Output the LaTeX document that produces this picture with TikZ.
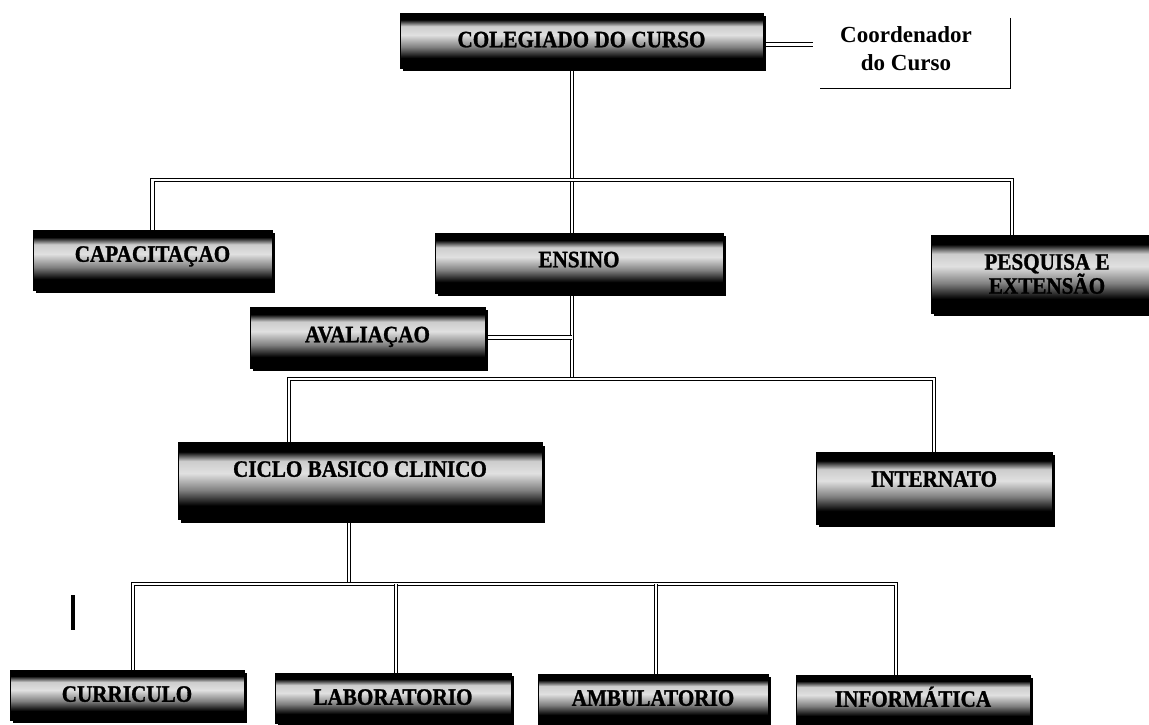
\documentclass[tikz,border=0pt]{standalone}
\usepackage{fontspec}
\setmainfont{Liberation Serif}
\newfontfamily\boxfont[FakeStretch=0.9,BoldFeatures={FakeBold=1.2}]{Liberation Serif}
\usetikzlibrary{shadows,calc}
\pgfdeclarelayer{bg}
\pgfsetlayers{bg,main}
\pgfdeclareverticalshading{cyl}{100bp}{color(0bp)=(black); color(25bp)=(black); color(34bp)=(black); color(44bp)=(black!50); color(55bp)=(black!12); color(63bp)=(black!20); color(69bp)=(black); color(75bp)=(black); color(100bp)=(black)}
\tikzset{
  box/.style={rectangle, draw=black, line width=1pt, shade, shading=cyl,
    inner sep=0pt, align=center, text height=15.5pt,
    font=\boxfont\fontsize{23.5}{24}\selectfont\bfseries, text=black,
    drop shadow={shadow xshift=3pt, shadow yshift=-3pt, fill=black, opacity=1}},
  twoline/.style={text height=, text depth=},
  up/.style={text depth=#1},
  dbl/.style={draw=black, line width=1.1pt, double=white, double distance=2.4pt},
  frameline/.style={draw=black, line width=1.3pt},
  coordtext/.style={rectangle, inner sep=0pt, align=center,
    font=\fontsize{23}{28}\selectfont\bfseries, text=black}
}
\begin{document}
\begin{tikzpicture}[x=1pt, y=-1pt]
\useasboundingbox (0,0) rectangle (1149,724);

% nodes
\node[box, up=2pt, minimum width=363pt, minimum height=55pt] (col) at (581.5,40.5) {COLEGIADO DO CURSO};
\node[coordtext, minimum width=208pt, minimum height=70pt] (coord) at (906,49) {Coordenador\\do Curso};
\node[box, up=12pt, minimum width=239pt, minimum height=60pt] (cap) at (152.5,260) {CAPACITAÇAO};
\node[box, up=7pt, minimum width=288pt, minimum height=60pt] (ens) at (579,263) {ENSINO};
\node[box, twoline, minimum width=232pt, minimum height=78pt] (pes) at (1047,274) {PESQUISA E\\EXTENSÃO};
\node[box, up=6pt, minimum width=235pt, minimum height=61pt] (aval) at (367.5,337.5) {AVALIAÇAO};
\node[box, up=24pt, minimum width=364pt, minimum height=77pt] (ciclo) at (360,481) {CICLO BASICO CLINICO};
\node[box, up=18pt, minimum width=236pt, minimum height=72pt] (intern) at (934,488) {INTERNATO};
\node[box, up=2pt, minimum width=234pt, minimum height=50pt] (cur) at (127,695) {CURRICULO};
\node[box, up=2pt, minimum width=236pt, minimum height=50pt] (lab) at (393,698) {LABORATORIO};
\node[box, up=2pt, minimum width=230pt, minimum height=50pt] (amb) at (653,699) {AMBULATORIO};
\node[box, up=2pt, minimum width=234pt, minimum height=50pt] (info) at (913,700) {INFORMÁTICA};

\coordinate (t1) at (572,180);
\coordinate (t2) at (572,379);
\coordinate (t3) at (349,584);

\begin{pgfonlayer}{bg}
  % trunk from the collegiate down to the lower bus
  \draw[dbl] (col.south -| t1) -- (t2);
  % upper bus
  \draw[dbl] (cap.north) |- (t1) -| ([xshift=-35pt]pes.north);
  % evaluation branch
  \draw[dbl] (aval.east) -- (aval.east -| t1);
  % lower bus
  \draw[dbl] ([xshift=-71pt]ciclo.north) |- (t2) -| (intern.north);
  % from ciclo down to the bottom bus
  \draw[dbl] (ciclo.south -| t3) -- (t3);
  \draw[dbl] ([xshift=6pt]cur.north) |- (t3) -| ([xshift=-17pt]info.north);
  \draw[dbl] ([xshift=3pt]lab.north) -- ([xshift=3pt]lab.north |- t3);
  \draw[dbl] ([xshift=3pt]amb.north) -- ([xshift=3pt]amb.north |- t3);
  % coordinator link
  \draw[dbl] ([yshift=-4pt]col.east) -- ([xshift=11pt,yshift=-4pt]coord.west |- col.east);
\end{pgfonlayer}

% coordinator frame
\draw[frameline] ([yshift=-4pt]coord.north east) -- ([yshift=-4pt]coord.south east)
  -- ([xshift=18pt,yshift=-4pt]coord.south west);

% stray mark
\draw[line width=4pt] (73,595) -- (73,630);
\end{tikzpicture}
\end{document}
